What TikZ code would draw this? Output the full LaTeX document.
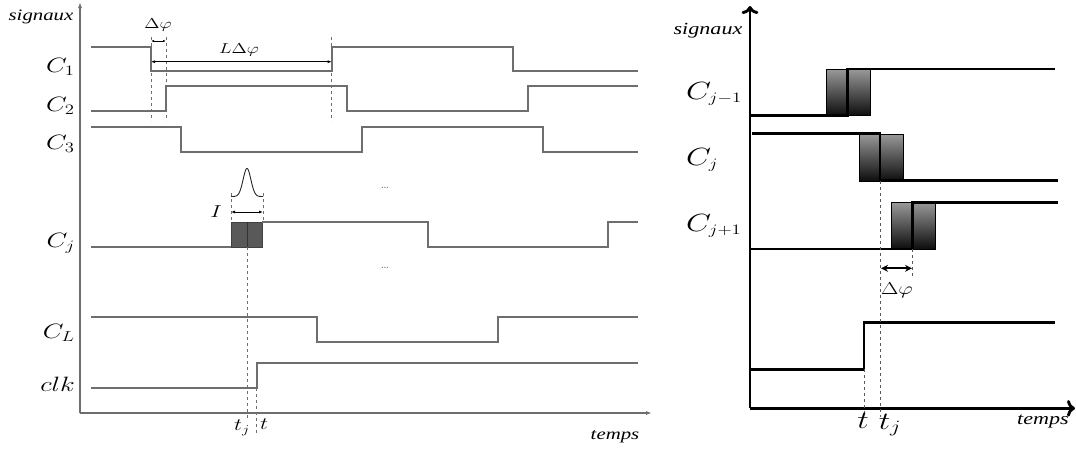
\documentclass[tikz,border=0pt]{standalone}
\usepackage{fontspec}
\usepackage{graphicx}
\usetikzlibrary{arrows.meta}
\newfontfamily\tnr{Liberation Serif}
\definecolor{wavegray}{HTML}{6E6E6E}
\definecolor{pulsegray}{HTML}{595959}
\newcommand{\hstr}[1]{\scalebox{1.3}[1]{#1}}

\tikzset{
  wave/.style={wavegray, line width=1.8pt},
  bwave/.style={black, line width=2.9pt},
  guide/.style={wavegray, dashed, line width=0.8pt},
  bguide/.style={black!65, dashed, line width=1pt},
  lbl/.style={inner sep=0pt, font=\fontsize{20}{22}\selectfont},
  smlbl/.style={inner sep=0pt, font=\fontsize{14}{16}\selectfont},
  blbl/.style={inner sep=0pt, font=\fontsize{28}{30}\selectfont},
  axlbl/.style={inner sep=0pt, font=\tnr\itshape\fontsize{16}{18}\selectfont},
  grad/.style={draw=black, line width=0.5pt, top color=black!40, bottom color=black!95},
}

\begin{document}
\begin{tikzpicture}[x=1pt, y=-1pt]
	\useasboundingbox (0, 0) rectangle (1076, 451);

	% left panel: axes
	\draw [wave, -{Latex[length=6pt, width=4pt]}] (80, 413) -- (80, 2);
	\draw [wave, -{Latex[length=6pt, width=4pt]}] (80, 413) -- (652, 413);
	\node [axlbl] (lsig) at (41, 17) {\hstr{signaux}};
	\node [axlbl] (ltemps) at (615, 437) {\hstr{temps}};

	% phases
	\draw [wave] (91, 46.7) -- (150.7, 46.7) -- (150.7, 70.7) -- (331.7, 70.7) -- (331.7, 46.7) -- (513, 46.7) -- (513, 71) -- (638, 71);
	\draw [wave] (91, 111) -- (166, 111) -- (166, 86.3) -- (346.7, 86.3) -- (346.7, 111) -- (528, 111) -- (528, 86.3) -- (638, 86.3);
	\draw [wave] (91, 126.7) -- (181, 126.7) -- (181, 151.7) -- (362, 151.7) -- (362, 126.7) -- (543, 126.7) -- (543, 151.7) -- (638, 151.7);
	\fill [pulsegray, draw=black!75, line width=0.6pt] (231, 222.3) rectangle (262.3, 247.3);
	\draw [black!80, line width=0.8pt] (247.3, 222.3) -- (247.3, 247.3);
	\draw [wave] (91, 247.3) -- (231, 247.3);
	\draw [wave] (262.3, 222.3) -- (428, 222.3) -- (428, 247.3) -- (608, 247.3) -- (608, 222.3) -- (638, 222.3);
	\draw [wave] (91, 317.3) -- (316.7, 317.3) -- (316.7, 342.3) -- (498, 342.3) -- (498, 317.3) -- (638, 317.3);
	\draw [wave] (91, 388.3) -- (256.7, 388.3) -- (256.7, 362.7) -- (638, 362.7);

	\node [lbl, anchor=east] (c1) at (75, 67) {\hstr{$C_1$}};
	\node [lbl, anchor=east] (c2) at (75, 106) {\hstr{$C_2$}};
	\node [lbl, anchor=east] (c3) at (75, 144) {\hstr{$C_3$}};
	\node [lbl, anchor=east] (cj) at (75, 243) {\hstr{$C_j$}};
	\node [lbl, anchor=east] (cl) at (75, 333) {\hstr{$C_L$}};
	\node [lbl, anchor=east] (clk) at (75, 384) {\hstr{$clk$}};

	\node [black!60, inner sep=0pt, font=\fontsize{15}{17}\selectfont] (dotsa) at (385, 188) {\ldots};
	\node [black!60, inner sep=0pt, font=\fontsize{15}{17}\selectfont] (dotsb) at (385, 268) {\ldots};

	% delays
	\draw [guide] (151, 37) -- (151, 121);
	\draw [guide] (166, 37) -- (166, 121);
	\draw [guide] (331.7, 37) -- (331.7, 121);
	\draw [{Latex[length=3pt]}-{Latex[length=3pt]}, line width=0.7pt] (151, 41) -- (166, 41);
	\draw [{Latex[length=4pt]}-{Latex[length=4pt]}, line width=0.7pt] (151, 61.7) -- (331.7, 61.7);
	\node [smlbl] (dphi) at (158, 25) {\hstr{$\Delta\varphi$}};
	\node [smlbl] (ldphi) at (239, 50) {\hstr{$L\Delta\varphi$}};

	% pulse
	\draw [black!85, line width=0.9pt] plot [domain=-16:16, samples=60, smooth] ({\x+247}, {196.5-28*exp(0-(\x/5.5)*(\x/5.5))});
	\draw [guide] (231, 193) -- (231, 222);
	\draw [guide] (263, 193) -- (263, 222);
	\draw [{Latex[length=4pt]}-{Latex[length=4pt]}, line width=0.8pt] (231, 212) -- (263, 212);
	\node [inner sep=0pt, font=\fontsize{17}{20}\selectfont] (ilbl) at (216, 212) {\hstr{$I$}};

	\draw [guide] (247.3, 247.3) -- (247.3, 418);
	\draw [guide] (256.7, 388.3) -- (256.7, 433);
	\node [inner sep=0pt, font=\fontsize{17}{19}\selectfont] (tjl) at (242, 428) {\hstr{$t_j$}};
	\node [inner sep=0pt, font=\fontsize{17}{19}\selectfont] (tl) at (264, 424) {\hstr{$t$}};

	% right panel: axes
	\draw [bwave, ->] (750, 408.3) -- (750, 6);
	\draw [bwave, ->] (750, 408.3) -- (1075, 408.3);
	\node [axlbl, font=\tnr\itshape\fontsize{17}{19}\selectfont] (rsig) at (708, 31) {\hstr{signaux}};
	\node [axlbl, font=\tnr\itshape\fontsize{17}{19}\selectfont] (rtemps) at (1043, 422) {\hstr{temps}};

	% windows
	\shade [grad] (826.7, 69) rectangle (847.3, 115.7);
	\shade [grad] (847.3, 69) rectangle (870, 115.7);
	\shade [grad] (859.3, 134) rectangle (880, 181);
	\shade [grad] (880, 134) rectangle (903.3, 181);
	\shade [grad] (891.7, 202.5) rectangle (912.7, 249);
	\shade [grad] (912.7, 202.5) rectangle (935.7, 249);

	\draw [bwave] (750, 115.7) -- (847.3, 115.7) -- (847.3, 69) -- (1055, 69);
	\draw [bwave] (751.7, 133.3) -- (880, 133.3) -- (880, 180.3) -- (1058, 180.3);
	\draw [bwave] (750, 249) -- (912.7, 249) -- (912.7, 202.5) -- (1058, 202.5);
	\draw [bwave] (750, 369.3) -- (864, 369.3) -- (864, 322.7) -- (1055, 322.7);

	\node [blbl, anchor=west] (cjm) at (686, 94) {\hstr{$C_{\scriptscriptstyle j-1}$}};
	\node [blbl, anchor=west] (cjr) at (686, 160) {\hstr{$C_{\scriptscriptstyle j}$}};
	\node [blbl, anchor=west] (cjp) at (686, 226) {\hstr{$C_{\scriptscriptstyle j+1}$}};

	\draw [bguide] (880, 181) -- (880, 417);
	\draw [bguide] (864, 369.3) -- (864, 417);
	\draw [bguide] (912.7, 249) -- (912.7, 277);
	\draw [{Stealth[length=7pt, width=7pt]}-{Stealth[length=7pt, width=7pt]}, line width=1.8pt] (881, 268.3) -- (912, 268.3);
	\node [inner sep=0pt, font=\fontsize{17}{20}\selectfont] (rdphi) at (897, 290) {\hstr{$\Delta\varphi$}};
	\node [inner sep=0pt, font=\fontsize{23}{26}\selectfont] (rt) at (863, 421) {\hstr{$t$}};
	\node [inner sep=0pt, font=\fontsize{23}{26}\selectfont] (rtj) at (890, 425) {\hstr{$t_j$}};
\end{tikzpicture}
\end{document}
